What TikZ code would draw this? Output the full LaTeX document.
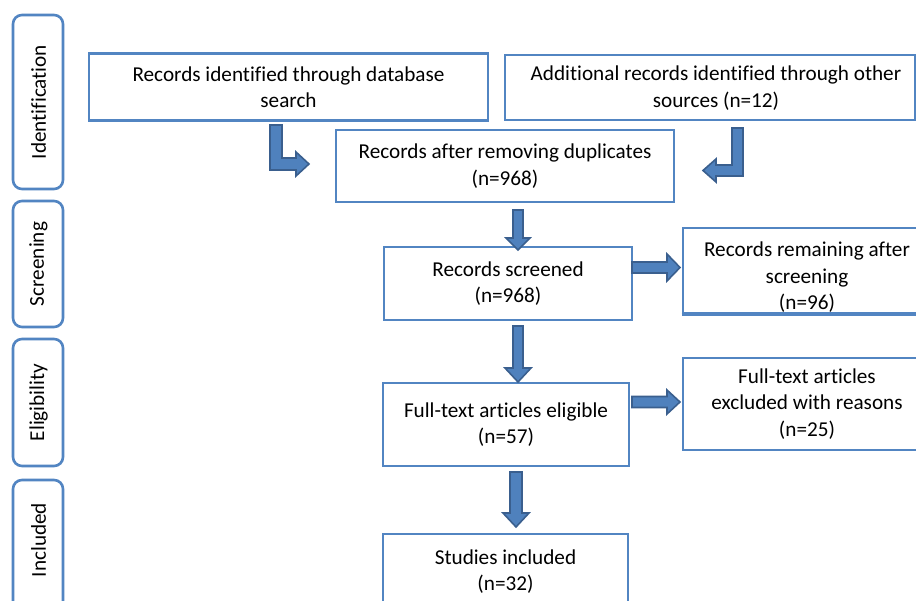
\documentclass[tikz,border=0pt]{standalone}
\usepackage{fontspec}
\setmainfont{Carlito}[Ligatures=NoCommon]
\definecolor{boxblue}{HTML}{5285C2}
\definecolor{arrfill}{HTML}{4F81BD}
\definecolor{arrline}{HTML}{3A5F8E}
\tikzset{
  box/.style={draw=boxblue, line width=2.6pt, fill=white, align=center, inner sep=0pt},
  side/.style={draw=boxblue, line width=2.6pt, fill=white, rounded corners=9pt},
  sidetext/.style={rotate=90, inner sep=0pt},
  blockarrow/.style={fill=arrfill, draw=arrline, line width=1.6pt, line join=miter},
  txt/.style={align=center, inner sep=0pt}
}
\newcommand{\downblock}[6]{% cx, ytop, ytip, shaft w, head w, head len
  \filldraw[blockarrow] ({#1-#4/2},#2) -- ({#1+#4/2},#2) -- ({#1+#4/2},{#3-#6}) -- ({#1+#5/2},{#3-#6})
    -- (#1,#3) -- ({#1-#5/2},{#3-#6}) -- ({#1-#4/2},{#3-#6}) -- cycle;}
\newcommand{\rightblock}[6]{% cy, xstart, xtip, shaft w, head w, head len
  \filldraw[blockarrow] (#2,{#1-#4/2}) -- ({#3-#6},{#1-#4/2}) -- ({#3-#6},{#1-#5/2}) -- (#3,#1)
    -- ({#3-#6},{#1+#5/2}) -- ({#3-#6},{#1+#4/2}) -- (#2,{#1+#4/2}) -- cycle;}
\begin{document}
\begin{tikzpicture}[x=1pt,y=-1pt,font=\fontsize{21.2}{26.5}\selectfont]
\clip (0,0) rectangle (916,601);
\fill[white] (0,0) rectangle (916,601);

% side bars
\draw[side] (13,15) rectangle (63,189);
\node[sidetext] (sid) at (38.5,102) {Identification};
\draw[side] (13,201) rectangle (63,327);
\node[sidetext] (sscr) at (38.5,264) {Screening};
\draw[side] (13,339) rectangle (63,466);
\node[sidetext] (selig) at (38.5,402.5) {Eligibility};
\draw[side] (13,480) rectangle (63,620);
\node[sidetext] (sinc) at (38.5,540) {Included};

% boxes
\node[box, minimum width=399pt, minimum height=67pt] (b1) at (288.5,87) {Records identified through database\\search};
\node[box, minimum width=410pt, minimum height=65pt] (b2) at (710,87.5) {};
\node[txt] (b2t) at (716,88) {Additional records identified through other\\sources (n=12)};
\node[box, minimum width=338pt, minimum height=72pt] (b3) at (505,166) {Records after removing duplicates\\(n=968)};
\node[box, minimum width=248pt, minimum height=73pt] (b4) at (508,283.5) {Records screened\\(n=968)};
\node[box, minimum width=248pt, minimum height=85pt] (b5) at (807,270.5) {};
\begin{scope}
  \clip (683,228) rectangle (940,313);
  \node[txt] (b5t) at (807,277.5) {Records remaining after\\screening\\(n=96)};
\end{scope}
\draw[boxblue, line width=2.6pt] (b5.south west) -- (b5.south east);
\node[box, minimum width=246pt, minimum height=83pt] (b6) at (506,424.5) {Full-text articles eligible\\(n=57)};
\node[box, minimum width=248pt, minimum height=92pt] (b7) at (807,404) {Full-text articles\\excluded with reasons\\(n=25)};
\node[box, minimum width=245pt, minimum height=75pt] (b8) at (505.5,571.5) {Studies included\\(n=32)};

% bent arrows
\filldraw[blockarrow] (270,125) -- (282,125) -- (282,158) -- (296,158) -- (296,152) -- (309,164)
  -- (296,176) -- (296,170) -- (270,170) -- cycle;
\filldraw[blockarrow] (743,128) -- (743,176) -- (716,176) -- (716,182) -- (703,170.5) -- (716,159)
  -- (716,165) -- (732,165) -- (732,128) -- cycle;

% straight block arrows
\downblock{518}{210}{250}{10}{24}{12}
\downblock{518}{326}{382}{10}{26}{14}
\downblock{516}{472}{527}{12}{26}{14}
\rightblock{267.5}{632}{680}{11}{27}{13}
\rightblock{402}{632}{680}{11}{24}{13}
\end{tikzpicture}
\end{document}
